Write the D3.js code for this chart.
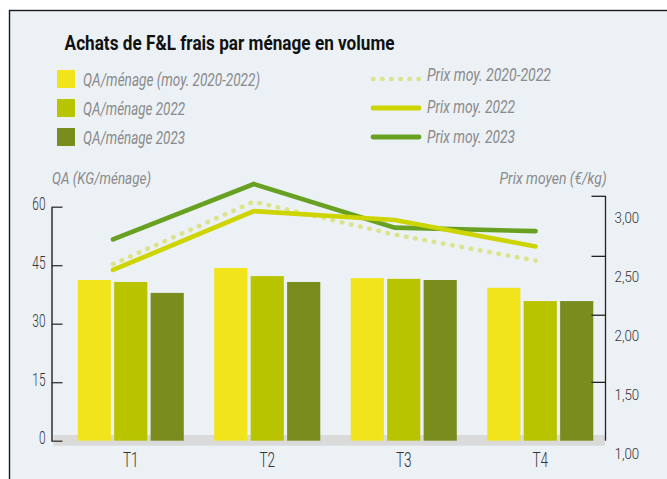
<!DOCTYPE html>
<html>
<head>
<meta charset="utf-8">
<script src="https://cdn.jsdelivr.net/npm/d3@7"></script>
<style>
    body { margin: 0; background: #fff; }
    text { font-family: 'Liberation Sans Narrow', 'Roboto', sans-serif; }
</style>
</head>
<body>
<div id="chart"></div>
<script>
// data
const quarters = ['T1', 'T2', 'T3', 'T4'];
const barSeries = ['QA/ménage (moy. 2020-2022)', 'QA/ménage 2022', 'QA/ménage 2023'];
const qaMoy = [41.2, 44.3, 41.7, 39.2];
const qa2022 = [40.7, 42.2, 41.5, 35.8];
const qa2023 = [37.9, 40.7, 41.2, 35.8];
const lineSeries = ['Prix moy. 2020-2022', 'Prix moy. 2022', 'Prix moy. 2023'];
const prixMoy = [2.60, 3.13, 2.85, 2.63];
const prix2022 = [2.55, 3.05, 2.975, 2.75];
const prix2023 = [2.81, 3.28, 2.91, 2.88];
const qaTicks = [0, 15, 30, 45, 60];
const prixTicks = [1, 1.5, 2, 2.5, 3];
const prixTickMarks = [3.18, 2.67, 2.17, 1.60];

const barColors = ['#f1e41b', '#b9c400', '#7b8c1f'];
const lineColors = ['#dde38c', '#cdd400', '#68a022'];

const width = 667, height = 479;
const svg = d3.select('#chart')
    .append('svg')
    .attr('width', width)
    .attr('height', height);

// panel
svg.append('rect')
    .attr('x', 9.5).attr('y', 10.5)
    .attr('width', 720).attr('height', 520)
    .attr('fill', '#ecf1f6')
    .attr('stroke', '#1a1a1a')
    .attr('stroke-width', 1.4);

// scales
const yQA = d3.scaleLinear().domain([0, 60]).range([440.7, 206.7]);
const yPrix = d3.scaleLinear().domain([1, 3]).range([452.5, 217]);
const x0 = d3.scaleBand().domain(quarters).range([51.5, 619.5])
    .paddingInner(0.223).paddingOuter(0.192);
const x1 = d3.scaleBand().domain(barSeries).range([0, x0.bandwidth()]).paddingInner(0.09);
const xLine = d3.scalePoint().domain(quarters).range([113, 535.5]);

// title
svg.append('text')
    .text('Achats de F&L frais par ménage en volume')
    .attr('x', 64.6).attr('y', 50)
    .attr('font-size', 19.5)
    .attr('font-weight', 'bold')
    .attr('fill', '#111')
    .attr('textLength', 330)
    .attr('lengthAdjust', 'spacingAndGlyphs');

// legend: bars
const barLegend = svg.append('g').attr('id', 'bar-legend');
barSeries.forEach((name, i) => {
    barLegend.append('rect')
        .attr('x', 57).attr('y', 70 + i * 29)
        .attr('width', 18).attr('height', 18)
        .attr('fill', barColors[i]);
    barLegend.append('text')
        .text(name)
        .attr('x', 83).attr('y', 86 + i * 28.8)
        .attr('font-size', 18)
        .attr('font-style', 'italic')
        .attr('fill', '#8a8a8a')
        .attr('textLength', i === 0 ? 177 : 102)
        .attr('lengthAdjust', 'spacingAndGlyphs');
});

// legend: lines
const lineLegend = svg.append('g').attr('id', 'line-legend');
lineSeries.forEach((name, i) => {
    let ly = 79 + i * 29;
    lineLegend.append('line')
        .attr('x1', 373).attr('x2', 419)
        .attr('y1', ly).attr('y2', ly)
        .attr('stroke', lineColors[i])
        .attr('stroke-width', i === 0 ? 4.6 : 4.8)
        .attr('stroke-linecap', 'round')
        .attr('stroke-dasharray', i === 0 ? '0.5 8.6' : null);
    lineLegend.append('text')
        .text(name)
        .attr('x', 427).attr('y', [80.5, 112.5, 142.5][i])
        .attr('font-size', 18)
        .attr('font-style', 'italic')
        .attr('fill', '#8a8a8a')
        .attr('textLength', i === 0 ? 124 : 88)
        .attr('lengthAdjust', 'spacingAndGlyphs');
});

// axis titles
svg.append('text')
    .text('QA (KG/ménage)')
    .attr('x', 52).attr('y', 184)
    .attr('font-size', 16.5)
    .attr('font-style', 'italic')
    .attr('fill', '#8a8a8a')
    .attr('textLength', 99)
    .attr('lengthAdjust', 'spacingAndGlyphs');
svg.append('text')
    .text('Prix moyen (€/kg)')
    .attr('x', 499.6).attr('y', 184)
    .attr('font-size', 16.5)
    .attr('font-style', 'italic')
    .attr('fill', '#8a8a8a')
    .attr('textLength', 107)
    .attr('lengthAdjust', 'spacingAndGlyphs');

// grey base band
svg.append('rect')
    .attr('x', 53.3).attr('y', yQA(0) - 5.7)
    .attr('width', 605 - 53.3).attr('height', 10.7)
    .attr('fill', '#dadada');

// bars
const barValues = [qaMoy, qa2022, qa2023];
const groups = svg.append('g').attr('id', 'bars')
    .selectAll('g')
    .data(quarters)
    .join('g')
    .attr('transform', d => `translate(${x0(d)},0)`);
groups.selectAll('rect')
    .data((q, qi) => barSeries.map((s, si) => ({ series: s, idx: si, value: barValues[si][qi] })))
    .join('rect')
    .attr('x', d => x1(d.series))
    .attr('width', x1.bandwidth())
    .attr('y', d => yQA(d.value))
    .attr('height', d => yQA(0) - yQA(d.value))
    .attr('fill', d => barColors[d.idx]);

// condensed look for tick labels
const squeeze = (sel, k, x) => sel.attr('x', x / k).attr('transform', `scale(${k},1)`);

// left axis
const fmtPrix = v => d3.format('.2f')(v).replace('.', ',');
const axL = svg.append('g')
    .attr('transform', 'translate(51.5,0)')
    .call(d3.axisLeft(yQA).tickValues(qaTicks).tickSizeInner(-11).tickSizeOuter(0).tickPadding(6));
axL.select('.domain').attr('stroke', '#111').attr('stroke-width', 1.3);
axL.selectAll('.tick line').attr('stroke', '#333').attr('stroke-width', 1.3);
axL.selectAll('text').attr('font-size', 18).attr('font-weight', 300).attr('fill', '#333').attr('dy', '0.17em')
    .call(squeeze, 0.66, -6);

// right axis: labels, tick marks, spine
const axR = svg.append('g')
    .attr('transform', 'translate(605.5,0)')
    .call(d3.axisRight(yPrix).tickValues(prixTicks).tickSize(0).tickPadding(9).tickFormat(fmtPrix));
axR.select('.domain').remove();
axR.selectAll('text').attr('font-size', 15.5).attr('font-weight', 300).attr('fill', '#333').attr('dy', '0.36em')
    .call(squeeze, 0.86, 9);

const axRMarks = svg.append('g')
    .attr('transform', 'translate(605.5,0)')
    .call(d3.axisLeft(yPrix).tickValues(prixTickMarks).tickSize(14).tickFormat(''));
axRMarks.select('.domain').remove();
axRMarks.selectAll('.tick line').attr('stroke', '#222').attr('stroke-width', 1.3);
svg.append('line')
    .attr('x1', 605.5).attr('x2', 605.5)
    .attr('y1', yPrix(prixTickMarks[0])).attr('y2', yQA(0))
    .attr('stroke', '#222').attr('stroke-width', 1.3);

// x axis labels
const axX = svg.append('g')
    .attr('transform', `translate(0,${yQA(0)})`)
    .call(d3.axisBottom(x0).tickSize(0).tickPadding(12));
axX.select('.domain').remove();
axX.selectAll('text').attr('font-size', 20).attr('font-weight', 300).attr('fill', '#333')
    .call(squeeze, 0.68, 0);

// price lines
const lineFn = d3.line()
    .x((d, i) => xLine(quarters[i]))
    .y(d => yPrix(d));
const lineValues = [prixMoy, prix2023, prix2022];
const lineIdx = [0, 2, 1];
svg.append('g').attr('id', 'lines')
    .selectAll('path')
    .data(lineValues)
    .join('path')
    .attr('d', d => lineFn(d))
    .attr('fill', 'none')
    .attr('stroke', (d, i) => lineColors[lineIdx[i]])
    .attr('stroke-width', 4.6)
    .attr('stroke-linecap', 'round')
    .attr('stroke-dasharray', (d, i) => lineIdx[i] === 0 ? '0.5 8.9' : null);
</script>
</body>
</html>
